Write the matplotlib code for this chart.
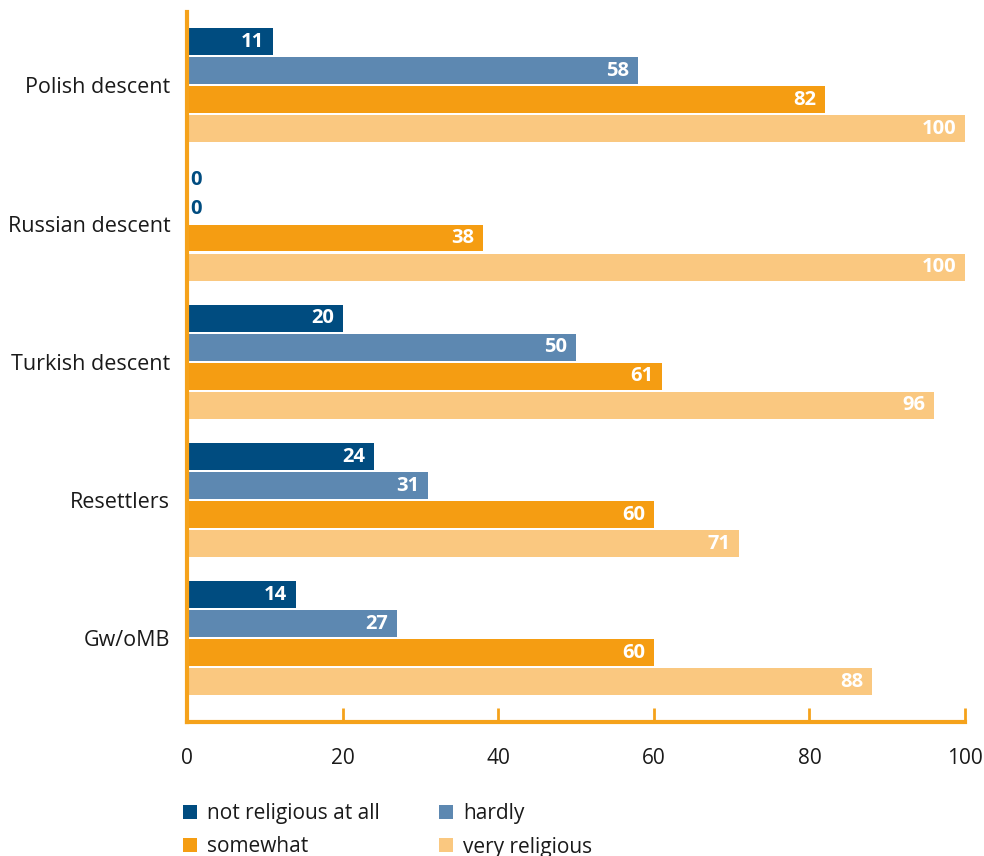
import matplotlib
matplotlib.use("Agg")
import matplotlib.pyplot as plt
from matplotlib.patches import Patch

plt.rcParams['font.family'] = ['Open Sans', 'DejaVu Sans']

categories = ["Polish descent", "Russian descent", "Turkish descent", "Resettlers", "Gw/oMB"]
series_names = ["not religious at all", "hardly", "somewhat", "very religious"]
not_religious = [11, 0, 20, 24, 14]
hardly = [58, 0, 50, 31, 27]
somewhat = [82, 38, 61, 60, 60]
very_religious = [100, 100, 96, 71, 88]
xticks = [0, 20, 40, 60, 80, 100]

series = [not_religious, hardly, somewhat, very_religious]
colors = ["#004C80", "#5D88B1", "#F59D12", "#FAC880"]
label_color_zero = "#004C80"
axis_color = "#F5A21B"
text_color = "#1a1a1a"

fig = plt.figure(figsize=(9.84, 8.56), dpi=100)
ax = fig.add_axes([187/984, 1-722/856, (965-187)/984, (722-12)/856])

bar_h = 0.194
step = 0.21
offsets = [-1.5*step, -0.5*step, 0.5*step, 1.5*step]
for s, vals in enumerate(series):
    for i, v in enumerate(vals):
        y = i + offsets[s]
        ax.barh(y, v, height=bar_h, color=colors[s], left=0)
        if v > 0:
            ax.text(v - 1.1, y, str(v), ha='right', va='center', color='white',
                    fontsize=14.5, fontweight='bold')
        else:
            ax.text(0.45, y, str(v), ha='left', va='center', color=label_color_zero,
                    fontsize=14.5, fontweight='bold')

ax.set_xlim(0, 100)
ax.set_ylim(len(categories) - 1 + 0.605, -0.53)
ax.set_yticks(range(len(categories)))
ax.set_yticklabels(categories, fontsize=15.5, color=text_color)
ax.tick_params(axis='y', length=0, pad=12)
ax.set_xticks(xticks)
ax.set_xticklabels([str(t) for t in xticks], fontsize=15, color=text_color)
ax.tick_params(axis='x', direction='in', length=10, width=2, color=axis_color, pad=19)

for side in ['top', 'right']:
    ax.spines[side].set_visible(False)
for side in ['left', 'bottom']:
    ax.spines[side].set_color(axis_color)
    ax.spines[side].set_linewidth(3)

handles = [Patch(facecolor=c, edgecolor='none') for c in colors]
order = [0, 2, 1, 3]  # row-major layout in a 2-column legend
fig.legend([handles[k] for k in order], [series_names[k] for k in order],
           loc='upper left', bbox_to_anchor=(183/984, 1-803/856),
           ncol=2, frameon=False, fontsize=15, handlelength=0.67, handleheight=0.67,
           handletextpad=0.48, columnspacing=2.85, labelspacing=0.6, borderpad=0,
           borderaxespad=0, labelcolor=text_color)

fig.savefig("out.png", dpi=100)
